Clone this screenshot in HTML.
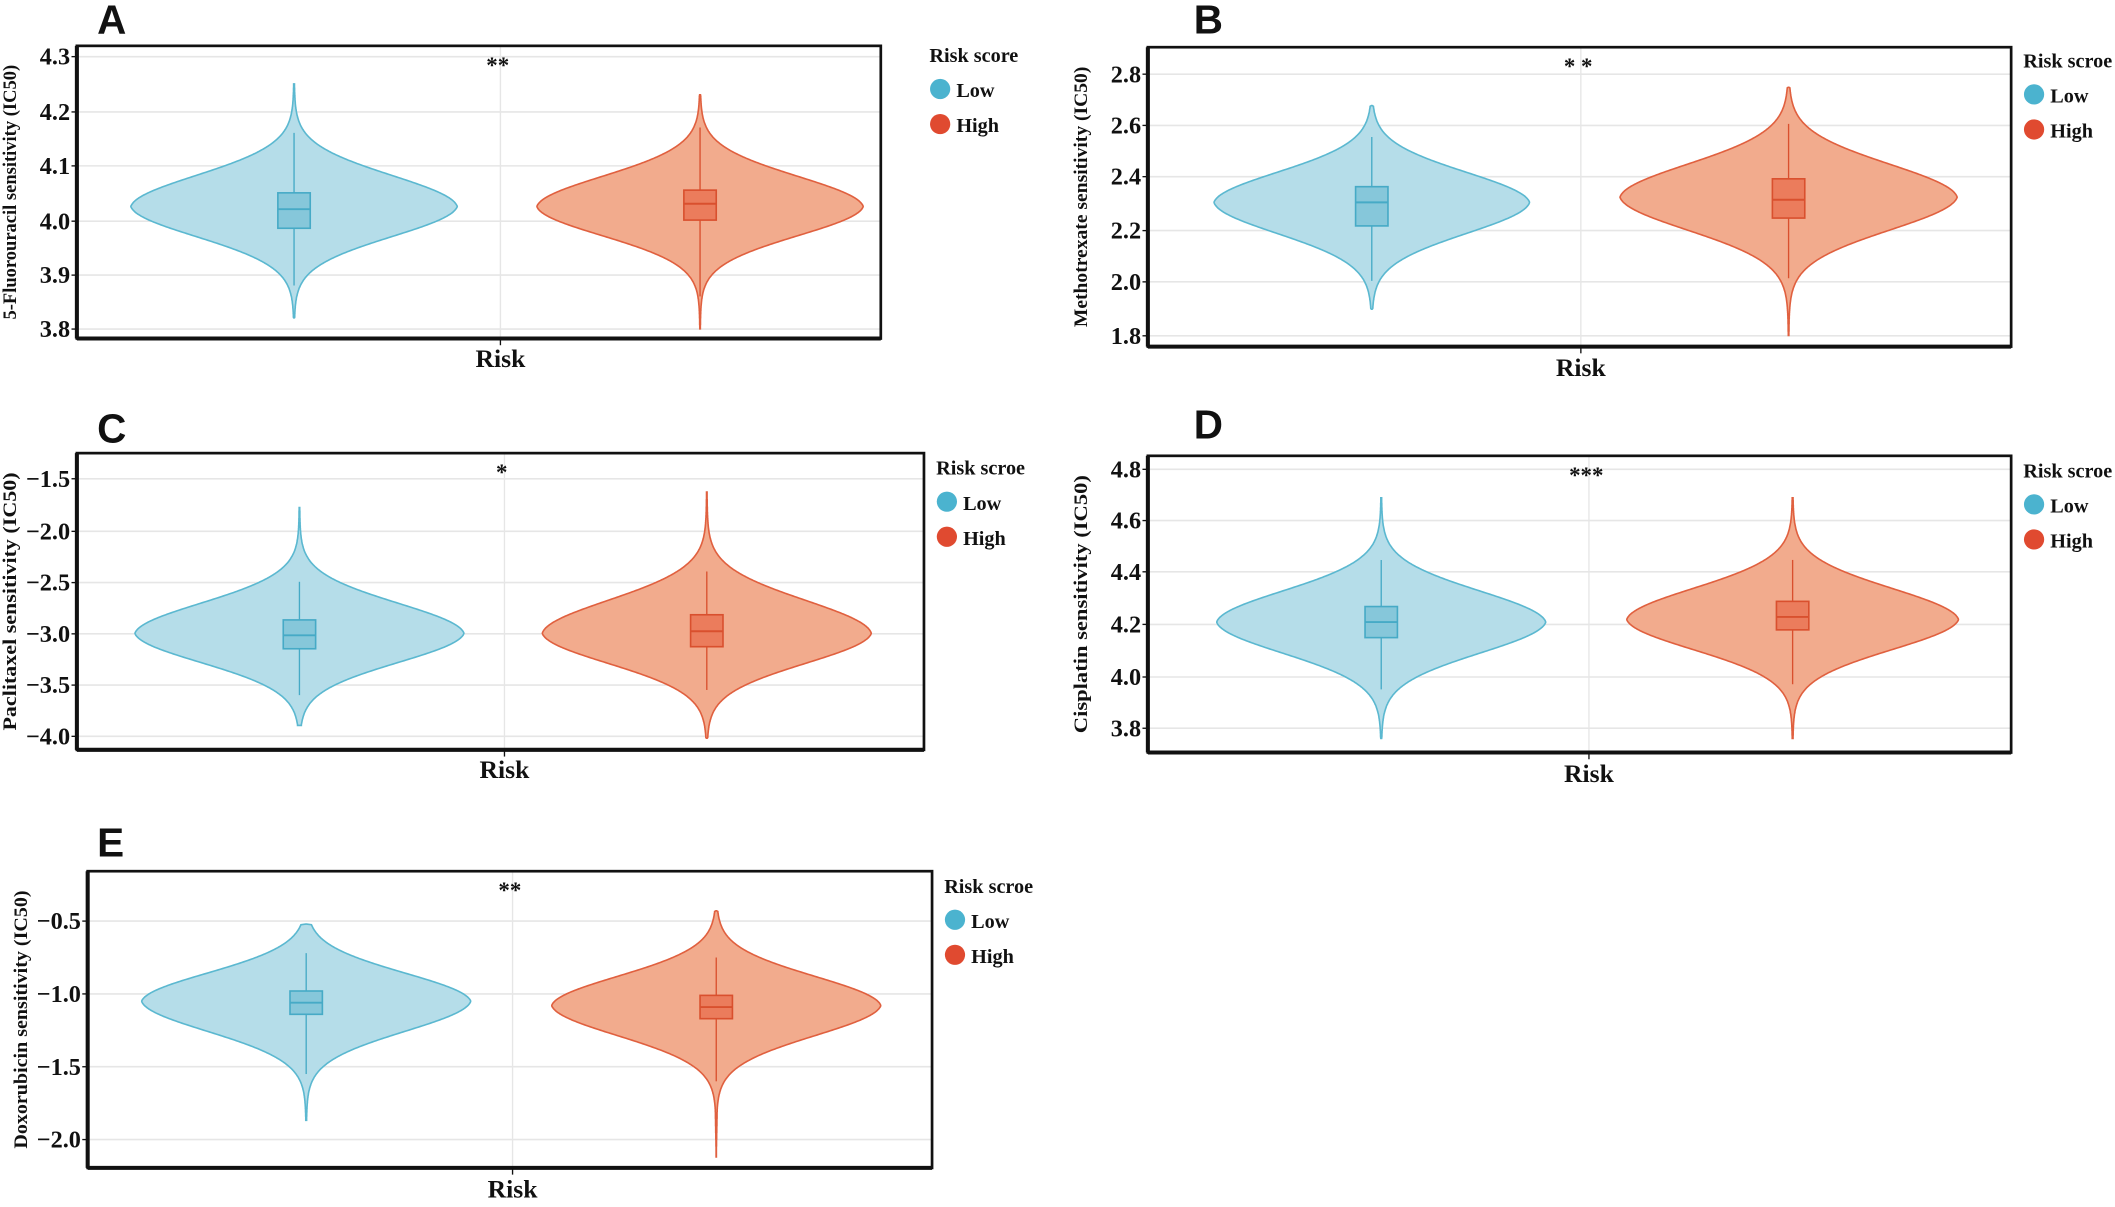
<!DOCTYPE html>
<html><head><meta charset="utf-8"><style>
html,body{margin:0;padding:0;background:#fff}
svg{display:block}
text{font-family:"Liberation Serif",serif;font-weight:bold;fill:#111}
</style></head><body>
<svg id="s" width="2115" height="1207" viewBox="0 0 1568 895" preserveAspectRatio="none" xmlns="http://www.w3.org/2000/svg"></svg>
<script>
const S=document.getElementById('s');let h='';
const panels=[
{L:'A',lx:72,ly:25,x0:57,x1:653,y0:34,y1:251,cx:371,ticks:[[4.3,42],[4.2,83],[4.1,123],[4.0,164],[3.9,204],[3.8,244]],
 ylab:'5-Fluorouracil sensitivity (IC50)',stars:'**',legx:689,legy:42,title:'Risk score',risky:267,
 v:[{c:218,W:121,pk:4.025,top:4.25,bot:3.82,q1:3.985,q3:4.05,med:4.02,wt:4.16,wb:3.88,su:33,sd:32},
    {c:519,W:121,pk:4.025,top:4.23,bot:3.80,q1:4.0,q3:4.055,med:4.03,wt:4.17,wb:3.86,su:32,sd:31}]},
{L:'B',lx:885,ly:25,x0:851,x1:1491,y0:35,y1:257,cx:1172,ticks:[[2.8,55],[2.6,93],[2.4,131],[2.2,171],[2.0,209],[1.8,249]],
 ylab:'Methotrexate sensitivity (IC50)',stars:'* *',legx:1500,legy:46,title:'Risk scroe',risky:274,
 v:[{c:1017,W:117,pk:2.31,top:2.68,bot:1.9,q1:2.22,q3:2.37,med:2.31,wt:2.56,wb:2.01,su:32,sd:33},
    {c:1326,W:125,pk:2.33,top:2.75,bot:1.8,q1:2.25,q3:2.40,med:2.32,wt:2.61,wb:2.02,su:35,sd:35}]},
{L:'C',lx:72,ly:328,x0:57,x1:685,y0:336,y1:556,cx:374,ticks:[[-1.5,355],[-2.0,394],[-2.5,432],[-3.0,470],[-3.5,508],[-4.0,546]],
 ylab:'Paclitaxel sensitivity (IC50)',stars:'*',legx:694,legy:348,title:'Risk scroe',risky:572,
 v:[{c:222,W:122,pk:-3.0,top:-1.78,bot:-3.9,q1:-3.15,q3:-2.87,med:-3.02,wt:-2.5,wb:-3.6,su:32,sd:31},
    {c:524,W:122,pk:-3.0,top:-1.63,bot:-4.02,q1:-3.13,q3:-2.82,med:-2.98,wt:-2.4,wb:-3.55,su:35,sd:32}]},
{L:'D',lx:885,ly:325,x0:851,x1:1491,y0:338,y1:558,cx:1178,ticks:[[4.8,348],[4.6,386],[4.4,424],[4.2,463],[4.0,502],[3.8,540]],
 ylab:'Cisplatin sensitivity (IC50)',stars:'***',legx:1500,legy:350,title:'Risk scroe',risky:575,
 v:[{c:1024,W:122,pk:4.21,top:4.69,bot:3.76,q1:4.15,q3:4.27,med:4.21,wt:4.45,wb:3.95,su:33,sd:33},
    {c:1329,W:123,pk:4.22,top:4.69,bot:3.76,q1:4.18,q3:4.29,med:4.23,wt:4.45,wb:3.97,su:33,sd:32}]},
{L:'E',lx:72,ly:635,x0:65,x1:691,y0:646,y1:866,cx:380,ticks:[[-0.5,683],[-1.0,737],[-1.5,791],[-2.0,845]],
 ylab:'Doxorubicin sensitivity (IC50)',stars:'**',legx:700,legy:658,title:'Risk scroe',risky:883,
 v:[{c:227,W:122,pk:-1.05,top:-0.52,bot:-1.87,q1:-1.14,q3:-0.98,med:-1.06,wt:-0.72,wb:-1.55,su:30,sd:32},
    {c:531,W:122,pk:-1.08,top:-0.43,bot:-2.12,q1:-1.17,q3:-1.01,med:-1.09,wt:-0.75,wb:-1.6,su:31,sd:32}]}
];
const col=[{f:'#b5dde9',s:'#5bb8d0',bf:'#86c7da',bs:'#46aac6',lg:'#4bb3cf'},{f:'#f2ab8d',s:'#e0603f',bf:'#eb7c5c',bs:'#d9502e',lg:'#e04a30'}];
panels.forEach(p=>{
 const [a,b]=[p.ticks[0],p.ticks[p.ticks.length-1]];
 const Y=v=>a[1]+(v-a[0])*(b[1]-a[1])/(b[0]-a[0]);
 h+=`<text x="${p.lx}" y="${p.ly}" font-size="30" style="font-family:'Liberation Sans',sans-serif" font-weight="bold">${p.L}</text>`;
 p.ticks.forEach(t=>{h+=`<line x1="${p.x0}" x2="${p.x1}" y1="${t[1]}" y2="${t[1]}" stroke="#e6e6e6" stroke-width="1.2"/>`;
  h+=`<line x1="${p.x0-4}" x2="${p.x0}" y1="${t[1]}" y2="${t[1]}" stroke="#111" stroke-width="1"/>`;
  h+=`<text x="${p.x0-5}" y="${t[1]+6}" font-size="18" text-anchor="end">${t[0].toFixed(1).replace('-','−')}</text>`;});
 h+=`<line x1="${p.cx}" x2="${p.cx}" y1="${p.y0}" y2="${p.y1}" stroke="#e6e6e6" stroke-width="1"/>`;
 p.v.forEach((v,i)=>{
  const c=col[i],yp=Y(v.pk),yt=Y(v.top),yb=Y(v.bot);let L=[],R=[];
  for(let y=yt;y<=yb+0.01;y+=0.5){const d=y-yp,s=d<0?v.su:v.sd,D=d<0?yp-yt:yb-yp;
   const r=Math.abs(d)/s;
   let w=v.W*(0.93*Math.exp(-Math.pow(r,2))+0.07*Math.exp(-r*1.3));
   w=Math.max(w,2.2*(1-Math.abs(d)/D));
   if(y===yt||y>yb-0.4)w=Math.min(w,0.3);L.push([v.c-w,y]);R.push([v.c+w,y]);}
  const pts=L.concat(R.reverse()).map(q=>q[0].toFixed(1)+','+q[1].toFixed(1)).join(' ');
  h+=`<polygon points="${pts}" fill="${c.f}" stroke="${c.s}" stroke-width="1.2"/>`;
  h+=`<line x1="${v.c}" x2="${v.c}" y1="${Y(v.wt)}" y2="${Y(v.wb)}" stroke="${c.bs}" stroke-width="1"/>`;
  h+=`<rect x="${v.c-12}" y="${Y(v.q3)}" width="24" height="${Y(v.q1)-Y(v.q3)}" fill="${c.bf}" stroke="${c.bs}" stroke-width="1.2"/>`;
  h+=`<line x1="${v.c-12}" x2="${v.c+12}" y1="${Y(v.med)}" y2="${Y(v.med)}" stroke="${c.bs}" stroke-width="1.4"/>`;
 });
 h+=`<rect x="${p.x0}" y="${p.y0}" width="${p.x1-p.x0}" height="${p.y1-p.y0}" fill="none" stroke="#111" stroke-width="2"/>`;
 h+=`<line x1="${p.x0}" x2="${p.x1}" y1="${p.y1}" y2="${p.y1}" stroke="#111" stroke-width="3"/>`;
 h+=`<line x1="${p.x0}" x2="${p.x0}" y1="${p.y0}" y2="${p.y1}" stroke="#111" stroke-width="3"/>`;
 h+=`<line x1="${p.cx}" x2="${p.cx}" y1="${p.y1}" y2="${p.y1+5}" stroke="#111" stroke-width="1"/>`;
 h+=`<text x="${p.cx}" y="${p.risky+5}" font-size="19" text-anchor="middle">Risk</text>`;
 h+=`<text x="${p.cx-2}" y="${p.y0+20}" font-size="17" text-anchor="middle" font-weight="normal">${p.stars}</text>`;
 const my=(p.y0+p.y1)/2, len=(p.y1-p.y0)*0.87;
 h+=`<text transform="translate(${p.x0-45},${my}) rotate(-90)" font-size="14" text-anchor="middle" textLength="${len}" lengthAdjust="spacingAndGlyphs">${p.ylab}</text>`;
 h+=`<text x="${p.legx}" y="${p.legy+4}" font-size="15">${p.title}</text>`;
 h+=`<circle cx="${p.legx+8}" cy="${p.legy+24}" r="7.5" fill="${col[0].lg}"/><text x="${p.legx+20}" y="${p.legy+30}" font-size="15">Low</text>`;
 h+=`<circle cx="${p.legx+8}" cy="${p.legy+50}" r="7.5" fill="${col[1].lg}"/><text x="${p.legx+20}" y="${p.legy+56}" font-size="15">High</text>`;
});
S.innerHTML=h;
</script>
</body></html>
